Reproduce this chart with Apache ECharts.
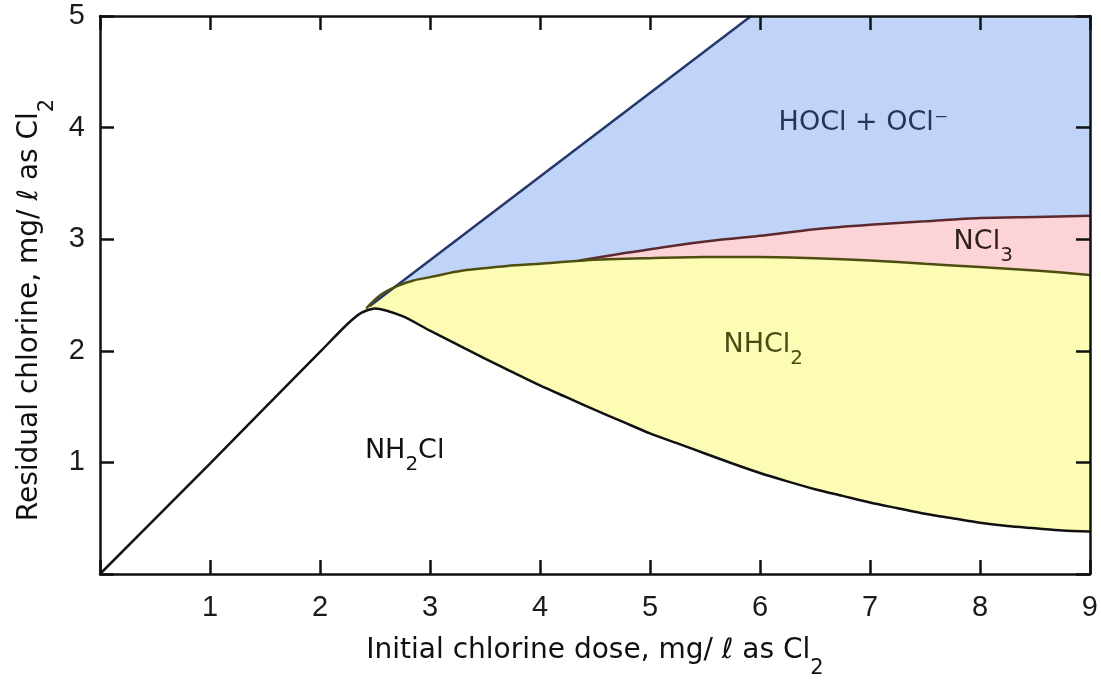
<!DOCTYPE html>
<html><head><meta charset="utf-8">
<script src="https://cdn.jsdelivr.net/npm/echarts@6/dist/echarts.min.js"></script>
<style>html,body{margin:0;padding:0;background:#fff}#c{width:1101px;height:686px}</style>
</head><body><div id="c"></div>
<script>
// Axis ticks
const xTicks = [0, 1, 2, 3, 4, 5, 6, 7, 8, 9];
const yTicks = [0, 1, 2, 3, 4, 5];

// NH2Cl boundary (breakpoint curve)
const blackX = [0, 1, 2, 2.25, 2.375, 2.5, 2.75, 3.0, 3.25, 3.5, 3.75, 4.0, 4.25, 4.5, 4.75, 5.0, 5.25, 5.5, 5.75, 6.0, 6.25, 6.5, 6.75, 7.0, 7.25, 7.5, 7.75, 8.0, 8.25, 8.5, 8.75, 9.0];
const blackY = [0, 0.99, 1.99, 2.24, 2.34, 2.38, 2.31, 2.18, 2.055, 1.93, 1.81, 1.69, 1.58, 1.47, 1.365, 1.26, 1.17, 1.08, 0.99, 0.905, 0.83, 0.76, 0.70, 0.64, 0.59, 0.54, 0.50, 0.46, 0.43, 0.41, 0.39, 0.38];

// NHCl2 upper boundary
const yellowX = [2.42, 2.55, 2.7, 2.85, 3.0, 3.3, 3.7, 4.0, 4.4, 5.0, 5.5, 6.0, 6.5, 7.0, 7.5, 8.0, 8.5, 9.0];
const yellowY = [2.38, 2.50, 2.58, 2.63, 2.66, 2.72, 2.76, 2.78, 2.81, 2.83, 2.84, 2.84, 2.83, 2.81, 2.78, 2.75, 2.72, 2.68];

// NCl3 upper boundary
const pinkX = [4.36, 4.8, 5.2, 5.6, 6.0, 6.5, 7.0, 7.5, 8.0, 8.5, 9.0];
const pinkY = [2.81, 2.88, 2.94, 2.99, 3.03, 3.09, 3.13, 3.16, 3.19, 3.20, 3.21];

// HOCl + OCl- upper boundary
const blueX = [2.45, 5.92, 9.0];
const blueY = [2.40, 5.0, 5.0];

// Region labels
const labelText = ['{a|NH}{s|2}{a|Cl}', '{a|NHCl}{s|2}', '{a|HOCl + OCl⁻}', '{a|NCl}{s|3}'];
const labelX = [2.77, 6.03, 6.94, 8.03];
const labelY = [1.08, 2.03, 4.02, 2.95];
const labelColor = ['#111111', '#4a4a14', '#263456', '#2e2020'];

const zip = (xs, ys) => xs.map((x, i) => [x, ys[i]]);
const TICKFONT = '"Liberation Sans", Arial, sans-serif';
const FONT = '"DejaVu Sans", sans-serif';

function richFor(color, big, subSize, subPad) {
  return {
    a: { fontSize: big, lineHeight: 32, verticalAlign: 'top', color: color, fontFamily: FONT },
    s: { fontSize: subSize, lineHeight: subSize, verticalAlign: 'top', padding: [subPad, 0, 0, 0], color: color, fontFamily: FONT },
    e: { width: 30, fontSize: big, lineHeight: 32, verticalAlign: 'top' }
  };
}

const axisLineStyle = { color: '#111', width: 2.5 };
const tickStyle = { show: true, inside: true, length: 14, lineStyle: { color: '#111', width: 2.5 } };

const chart = echarts.init(document.getElementById('c'), null, { renderer: 'canvas' });
const option = {
  animation: false,
  backgroundColor: '#fff',
  grid: { left: 100, right: 9, top: 16, bottom: 112 },
  xAxis: [
    {
      type: 'value', min: xTicks[0], max: xTicks[xTicks.length - 1], interval: 1, z: 10,
      axisLine: { show: true, lineStyle: axisLineStyle },
      axisTick: tickStyle,
      splitLine: { show: false },
      axisLabel: { margin: 19, fontSize: 29, color: '#1a1a1a', fontFamily: TICKFONT,
        formatter: v => (v === 0 ? '' : String(v)) },
      name: '{a|Initial chlorine dose, mg/ ℓ as Cl}{s|2}',
      nameLocation: 'middle', nameGap: 63,
      nameTextStyle: { rich: richFor('#111', 28, 21, 21) }
    },
    {
      type: 'value', position: 'top', min: 0, max: 9, interval: 1, z: 10,
      axisLine: { show: true, onZero: false, lineStyle: axisLineStyle },
      axisTick: tickStyle, axisLabel: { show: false }, splitLine: { show: false }
    }
  ],
  yAxis: [
    {
      type: 'value', min: yTicks[0], max: yTicks[yTicks.length - 1], interval: 1, z: 10,
      axisLine: { show: true, lineStyle: axisLineStyle },
      axisTick: tickStyle,
      splitLine: { show: false },
      axisLabel: { margin: 15, fontSize: 29, color: '#1a1a1a', fontFamily: TICKFONT,
        formatter: v => (v === 0 ? '' : String(v)) },
      name: '{a|Residual chlorine, mg/ ℓ as Cl}{s|2}{e| }',
      nameLocation: 'middle', nameGap: 51,
      nameTextStyle: { rich: richFor('#111', 28, 21, 21) }
    },
    {
      type: 'value', position: 'right', min: 0, max: 5, interval: 1, z: 10,
      axisLine: { show: true, onZero: false, lineStyle: axisLineStyle },
      axisTick: tickStyle, axisLabel: { show: false }, splitLine: { show: false }
    }
  ],
  series: [
    { type: 'line', name: 'HOCl area', data: zip(blueX, blueY), symbol: 'none', silent: true, z: 1,
      lineStyle: { width: 0 }, areaStyle: { color: '#c0d4fa', opacity: 1 } },
    { type: 'line', name: 'NCl3 area', data: zip(pinkX, pinkY), symbol: 'none', smooth: 0.3, silent: true, z: 1,
      lineStyle: { width: 0 }, areaStyle: { color: '#fcd4d8', opacity: 1 } },
    { type: 'line', name: 'NHCl2 area', data: zip(yellowX, yellowY), symbol: 'none', smooth: 0.3, silent: true, z: 1,
      lineStyle: { width: 0 }, areaStyle: { color: '#fcfcb4', opacity: 1 } },
    { type: 'line', name: 'NH2Cl area', data: zip(blackX, blackY), symbol: 'none', smooth: 0.25, silent: true, z: 1,
      lineStyle: { width: 0 }, areaStyle: { color: '#ffffff', opacity: 1 } },
    { type: 'line', name: 'HOCl line', data: zip(blueX.slice(0, 2), blueY.slice(0, 2)), symbol: 'none', silent: true, z: 3,
      lineStyle: { color: '#26386b', width: 2.5 } },
    { type: 'line', name: 'NCl3 line', data: zip(pinkX, pinkY), symbol: 'none', smooth: 0.3, silent: true, z: 3,
      lineStyle: { color: '#5c2a2e', width: 2.5 } },
    { type: 'line', name: 'NHCl2 line', data: zip(yellowX, yellowY), symbol: 'none', smooth: 0.3, silent: true, z: 3,
      lineStyle: { color: '#4e4e10', width: 2.5 } },
    { type: 'line', name: 'NH2Cl line', data: zip(blackX, blackY), symbol: 'none', smooth: 0.25, silent: true, z: 4,
      lineStyle: { color: '#111', width: 2.5 } },
    { type: 'scatter', name: 'labels', silent: true, z: 5, symbolSize: 0,
      itemStyle: { opacity: 1 },
      data: labelText.map((t, i) => ({
        value: [labelX[i], labelY[i]],
        label: { show: true, position: 'inside', formatter: t, rich: richFor(labelColor[i], 27, 20, 17) }
      }))
    }
  ]
};
chart.setOption(option);
</script>
</body></html>
